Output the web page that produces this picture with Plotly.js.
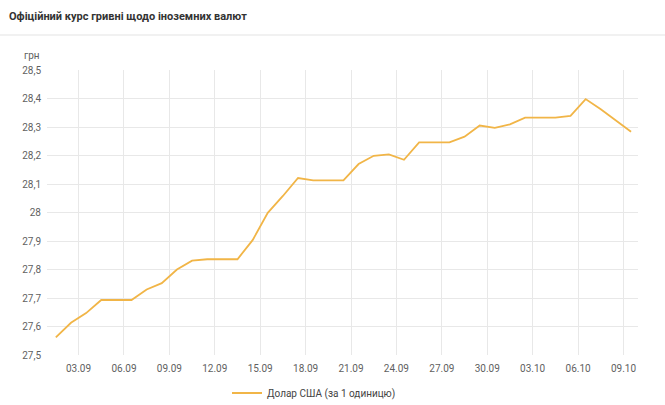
<!DOCTYPE html>
<html>
<head>
<meta charset="utf-8">
<script src="https://cdn.plot.ly/plotly-3.0.1.min.js"></script>
<style>
  html, body { margin: 0; padding: 0; background: #ffffff; }
  #chart { width: 665px; height: 405px; }
</style>
</head>
<body>
<div id="chart"></div>
<script>
const chartTitle = 'Офіційний курс гривні щодо іноземних валют';
const unitLabel = 'грн';
const seriesName = 'Долар США (за 1 одиницю)';

const dates = [
  '2020-09-01','2020-09-02','2020-09-03','2020-09-04','2020-09-05','2020-09-06','2020-09-07',
  '2020-09-08','2020-09-09','2020-09-10','2020-09-11','2020-09-12','2020-09-13','2020-09-14',
  '2020-09-15','2020-09-16','2020-09-17','2020-09-18','2020-09-19','2020-09-20','2020-09-21',
  '2020-09-22','2020-09-23','2020-09-24','2020-09-25','2020-09-26','2020-09-27','2020-09-28',
  '2020-09-29','2020-09-30','2020-10-01','2020-10-02','2020-10-03','2020-10-04','2020-10-05',
  '2020-10-06','2020-10-07','2020-10-08','2020-10-09'
];

const usdRate = [
  27.562, 27.613, 27.647, 27.693, 27.693, 27.693, 27.730,
  27.752, 27.800, 27.831, 27.836, 27.836, 27.836, 27.903,
  27.999, 28.058, 28.121, 28.113, 28.113, 28.113, 28.170,
  28.199, 28.204, 28.185, 28.246, 28.246, 28.246, 28.266,
  28.305, 28.297, 28.309, 28.333, 28.333, 28.333, 28.339,
  28.398, 28.362, 28.322, 28.283
];

const trace = {
  type: 'scatter',
  mode: 'lines',
  name: seriesName,
  x: dates.map(d => d + ' 12:00'),
  y: usdRate,
  line: { color: '#f1b547', width: 1.8 },
  hoverinfo: 'x+y'
};

const W = 665, H = 405;
const m = { l: 47, r: 27, t: 70, b: 50 };
const pw = W - m.l - m.r, ph = H - m.t - m.b;
const px = x => (x - m.l) / pw;
const py = y => (H - m.b - y) / ph;

const layout = {
  width: W,
  height: H,
  margin: m,
  paper_bgcolor: '#ffffff',
  plot_bgcolor: '#ffffff',
  separators: ', ',
  font: { family: 'Roboto, Arial, sans-serif', size: 10, color: '#5f5f5f' },
  showlegend: true,
  legend: {
    orientation: 'h',
    xref: 'container', yref: 'container',
    x: 227 / W, xanchor: 'left',
    y: (H - 393) / H, yanchor: 'middle',
    font: { size: 10, color: '#444444' },
    bgcolor: 'rgba(0,0,0,0)'
  },
  xaxis: {
    type: 'date',
    range: ['2020-08-31 22:00', '2020-10-09 23:00'],
    tick0: '2020-09-03',
    dtick: 3 * 86400000,
    tickformat: '%d.%m',
    showgrid: true,
    gridcolor: '#e8e8e8',
    gridwidth: 1,
    zeroline: false,
    showline: false,
    ticks: '',
    ticklabelstandoff: 6,
    tickfont: { size: 10, color: '#5f5f5f' },
    fixedrange: true
  },
  yaxis: {
    range: [27.5, 28.5],
    tick0: 27.5,
    dtick: 0.1,
    showgrid: true,
    gridcolor: '#e8e8e8',
    gridwidth: 1,
    zeroline: false,
    showline: false,
    ticks: '',
    ticklabelstandoff: 5,
    tickfont: { size: 10, color: '#5f5f5f' },
    fixedrange: true
  },
  annotations: [
    {
      text: '<b>' + chartTitle + '</b>',
      xref: 'paper', yref: 'paper',
      x: px(7), y: py(16),
      xanchor: 'left', yanchor: 'middle',
      showarrow: false,
      font: { size: 11, color: '#333333', family: 'Roboto, Arial, sans-serif' }
    },
    {
      text: unitLabel,
      xref: 'paper', yref: 'paper',
      x: px(22), y: py(55),
      xanchor: 'left', yanchor: 'middle',
      showarrow: false,
      font: { size: 10, color: '#5f5f5f' }
    }
  ],
  shapes: [
    {
      type: 'line', xref: 'paper', yref: 'paper',
      x0: px(0), x1: px(W), y0: py(35), y1: py(35),
      line: { color: '#e3e3e3', width: 1 }
    }
  ]
};

Plotly.newPlot('chart', [trace], layout, { displayModeBar: false, staticPlot: true });
</script>
</body>
</html>
